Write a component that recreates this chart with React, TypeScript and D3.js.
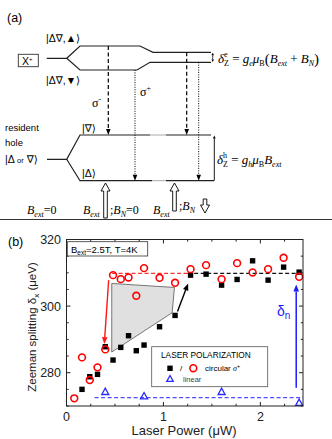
import React from "react";
import * as d3 from "d3";

// laser power (uW) for the circular-polarization series
const powerOpen = [0.08, 0.16, 0.24, 0.32, 0.40, 0.48, 0.56, 0.64, 0.72, 0.80, 0.96, 1.12, 1.28, 1.44, 1.60, 1.76, 1.92, 2.08, 2.24, 2.40];
const splitOpen = [272.3, 284.6, 277.8, 281.6, 287.0, 309.3, 308.1, 308.6, 303.1, 311.4, 308.5, 307.0, 311.1, 312.3, 308.1, 312.9, 310.1, 311.1, 314.5, 308.8];
const powerFilled = [0.16, 0.24, 0.32, 0.40, 0.48, 0.56, 0.64, 0.72, 0.80, 0.96, 1.12, 1.28, 1.44, 1.60, 1.76, 1.92, 2.08, 2.24, 2.40];
const splitFilled = [275.0, 278.8, 279.5, 287.8, 283.8, 287.6, 291.1, 286.6, 288.3, 293.8, 297.2, 309.3, 309.6, 306.3, 308.0, 313.6, 307.8, 311.7, 310.2];
const powerLinear = [0.40, 0.80, 1.60, 2.40];
const splitLinear = [274.3, 273.0, 274.3, 271.0];

const xTicks = [0, 1, 2];
const yTicks = [280, 300, 320];
const xMinor = d3.range(0, 2.45, 0.25);
const yMinor = d3.range(270, 320.1, 5);

const levelOpen = 309.8;
const levelLinear = 272.5;
const hysteresis = [[0.467, 306.8], [1.114, 305.6], [1.09, 298.0], [0.467, 286.2]];

const x = d3.scaleLinear().domain([0, 2.44]).range([66.5, 303]);
const y = d3.scaleLinear().domain([270, 320]).range([406, 239.5]);

const sans = "Liberation Sans, Arial, DejaVu Sans, sans-serif";
const serif = "Liberation Serif, Times New Roman, serif";

function Arrow({ x1, y1, x2, y2, color = "#000", len = 6, w = 2.5, width = 1.2, dash = undefined as any }) {
    const a = Math.atan2(y2 - y1, x2 - x1);
    const bx = x2 - len * Math.cos(a), by = y2 - len * Math.sin(a);
    const px = -Math.sin(a) * w, py = Math.cos(a) * w;
    return (
        <g>
            <line x1={x1} y1={y1} x2={bx} y2={by} stroke={color} strokeWidth={width} strokeDasharray={dash} />
            <path d={`M${x2},${y2}L${bx + px},${by + py}L${bx - px},${by - py}Z`} fill={color} />
        </g>
    );
}

function Hollow({ cx, tip, end }) {
    const d = tip < end ? 1 : -1;
    const h = tip + d * 8;
    return (
        <path
            d={`M${cx},${tip}L${cx + 4.5},${h}L${cx + 1.8},${h}L${cx + 1.8},${end}L${cx - 1.8},${end}L${cx - 1.8},${h}L${cx - 4.5},${h}Z`}
            fill="#fff" stroke="#000" strokeWidth={0.9}
        />
    );
}

function Triangle({ cx, cy, s = 7 }) {
    return <path d={`M${cx},${cy - s * 0.5}L${cx + s * 0.5},${cy + s * 0.4}L${cx - s * 0.5},${cy + s * 0.4}Z`} fill="none" stroke="#2b2bff" strokeWidth={1.3} />;
}

function Diagram() {
    const lvl = "#222";
    return (
        <g>
            <text x={7} y={22} fontFamily={sans} fontSize={12.5}>(a)</text>

            {/* exciton X+ levels */}
            <rect x={18.3} y={54.3} width={20} height={12.4} fill="#fff" stroke="#333" strokeWidth={0.9} />
            <text x={22} y={64.5} fontFamily={sans} fontSize={10.5}>X<tspan fontSize={6} dy={-4}>+</tspan></text>
            <path d="M46.7,58.3L66.7,58.3L80,46L140,46L153,52.3L211,52.3" fill="none" stroke={lvl} strokeWidth={1.2} />
            <path d="M66.7,58.3L80,70L137,70L150,62.3L211,62.3" fill="none" stroke={lvl} strokeWidth={1.2} />
            <text x={46} y={42} fontFamily={sans} fontSize={10.5}>|Δ∇,▲⟩</text>
            <text x={46} y={84} fontFamily={sans} fontSize={10.5}>|Δ∇,▼⟩</text>

            {/* resident hole levels */}
            <text x={5} y={131} fontFamily={sans} fontSize={9.5}>resident</text>
            <text x={5} y={146} fontFamily={sans} fontSize={9.5}>hole</text>
            <text x={5} y={163} fontFamily={sans} fontSize={10.5}>|Δ <tspan fontSize={7.5}>or</tspan> ∇⟩</text>
            <path d="M47,159.3L66.7,159.3L80,135L150,135" fill="none" stroke={lvl} strokeWidth={1.2} />
            <path d="M66.7,159.3L80,180.7L152,180.7" fill="none" stroke={lvl} strokeWidth={1.2} />
            <line x1={150} y1={135} x2={166} y2={135} stroke="#aaa" strokeWidth={1} />
            <line x1={152} y1={180.7} x2={166} y2={180.7} stroke="#aaa" strokeWidth={1} />
            <line x1={166} y1={135} x2={211} y2={135} stroke={lvl} strokeWidth={1.2} />
            <line x1={166} y1={180.7} x2={214} y2={180.7} stroke={lvl} strokeWidth={1.2} />
            <text x={82} y={132} fontFamily={sans} fontSize={10.5}>|∇⟩</text>
            <text x={82} y={177} fontFamily={sans} fontSize={10.5}>|Δ⟩</text>

            {/* optical transitions */}
            <Arrow x1={108.3} y1={46} x2={108.3} y2={135} dash="4,2.5" len={6} w={2.3} />
            <Arrow x1={135} y1={70} x2={135} y2={180.7} dash="1,1.4" width={1} len={6} w={2.3} />
            <Arrow x1={186.7} y1={52.3} x2={186.7} y2={135} dash="4,2.5" len={6} w={2.3} />
            <Arrow x1={198.7} y1={62.3} x2={198.7} y2={180.7} dash="1,1.4" width={1} len={6} w={2.3} />
            <text x={92} y={107} fontFamily={serif} fontSize={12}>σ<tspan fontSize={8} dy={-5}>-</tspan></text>
            <text x={140} y={96} fontFamily={serif} fontSize={12}>σ<tspan fontSize={8} dy={-5}>+</tspan></text>

            {/* splittings */}
            <Arrow x1={212.7} y1={57.5} x2={212.7} y2={52.8} len={2.5} w={1.3} width={0.8} />
            <Arrow x1={212.7} y1={57.5} x2={212.7} y2={62} len={2.5} w={1.3} width={0.8} />
            <text x={218} y={63} fontFamily={serif} fontSize={13}>
                <tspan fontStyle="italic">δ</tspan>
                <tspan fontSize={8} dy={-6}>e</tspan>
                <tspan fontSize={8} dx={-3.6} dy={9}>Z</tspan>
                <tspan dy={-3}> = </tspan>
                <tspan fontStyle="italic">g</tspan>
                <tspan fontSize={8} dy={3} fontStyle="italic">e</tspan>
                <tspan fontStyle="italic" dy={-3}>μ</tspan>
                <tspan fontSize={8} dy={3}>B</tspan>
                <tspan fontSize={15} dy={-2}>(</tspan>
                <tspan fontStyle="italic" dy={-1}>B</tspan>
                <tspan fontSize={8} dy={3} fontStyle="italic">ext</tspan>
                <tspan dy={-3}> + </tspan>
                <tspan fontStyle="italic">B</tspan>
                <tspan fontSize={8} dy={3} fontStyle="italic">N</tspan>
                <tspan fontSize={15} dy={-2}>)</tspan>
            </text>
            <Arrow x1={214.3} y1={160} x2={214.3} y2={135.5} len={3} w={1.4} width={0.9} />
            <line x1={214.3} y1={160} x2={214.3} y2={180.7} stroke="#000" strokeWidth={0.9} />
            <text x={217} y={164} fontFamily={serif} fontSize={13}>
                <tspan fontStyle="italic">δ</tspan>
                <tspan fontSize={8} dy={-6}>h</tspan>
                <tspan fontSize={8} dx={-4} dy={9}>Z</tspan>
                <tspan dy={-3}> = </tspan>
                <tspan fontStyle="italic">g</tspan>
                <tspan fontSize={8} dy={3} fontStyle="italic">h</tspan>
                <tspan fontStyle="italic" dy={-3}>μ</tspan>
                <tspan fontSize={8} dy={3}>B</tspan>
                <tspan fontStyle="italic" dy={-3}>B</tspan>
                <tspan fontSize={8} dy={3} fontStyle="italic">ext</tspan>
            </text>

            {/* field conditions */}
            <text x={27} y={214} fontFamily={serif} fontSize={12}>
                <tspan fontStyle="italic">B</tspan><tspan fontSize={8} dy={3} fontStyle="italic">ext</tspan><tspan dy={-3}>=0</tspan>
            </text>
            <text x={83} y={214} fontFamily={serif} fontSize={12}>
                <tspan fontStyle="italic">B</tspan><tspan fontSize={8} dy={3} fontStyle="italic">ext</tspan>
            </text>
            <Hollow cx={105.5} tip={183} end={218} />
            <text x={110} y={214} fontFamily={serif} fontSize={12}>
                ;<tspan fontStyle="italic">B</tspan><tspan fontSize={8} dy={3} fontStyle="italic">N</tspan><tspan dy={-3}>=0</tspan>
            </text>
            <text x={153} y={214} fontFamily={serif} fontSize={12}>
                <tspan fontStyle="italic">B</tspan><tspan fontSize={8} dy={3} fontStyle="italic">ext</tspan>
            </text>
            <Hollow cx={174.5} tip={183} end={211} />
            <text x={179} y={210} fontFamily={serif} fontSize={12}>
                ;<tspan fontStyle="italic">B</tspan><tspan fontSize={8} dy={3} fontStyle="italic">N</tspan>
            </text>
            <Hollow cx={205} tip={213} end={199} />

            <line x1={0} y1={219.5} x2={332} y2={219.5} stroke="#333" strokeWidth={1} />
        </g>
    );
}

function Chart() {
    const [x0, x1] = x.range();
    const [y0, y1] = y.range();
    const poly = d3.line()(hysteresis.map(([p, s]) => [x(p), y(s)] as [number, number])) + "Z";
    return (
        <g>
            <text x={8} y={246} fontFamily={sans} fontSize={12.5}>(b)</text>

            <path d={poly} fill="#dfe0df" stroke="#555" strokeWidth={0.8} />

            {/* dashed reference levels */}
            <line x1={x(0.47)} x2={x(1.25)} y1={y(levelOpen)} y2={y(levelOpen)} stroke="#ff3030" strokeWidth={1.3} strokeDasharray="4,2.5" />
            <line x1={x(1.25)} x2={x1} y1={y(levelOpen)} y2={y(levelOpen)} stroke="#111" strokeWidth={1.3} strokeDasharray="4,2.5" />
            <line x1={x(0.29)} x2={x1} y1={y(levelLinear)} y2={y(levelLinear)} stroke="#4d4dff" strokeWidth={1.3} strokeDasharray="4,2.5" />

            {/* arrows */}
            <Arrow x1={x(0.435)} y1={y(307.8)} x2={x(0.39)} y2={y(288.6)} color="#ff1a1a" width={1.4} len={7} w={2.8} />
            <Arrow x1={x(1.145)} y1={y(298.4)} x2={x(1.255)} y2={y(306.8)} color="#000" width={1.4} len={7} w={2.8} />
            <Arrow x1={x(2.37)} y1={y(275.5)} x2={x(2.37)} y2={y(306.5)} color="#1a1aff" width={1.5} len={7} w={2.8} />
            <text x={277} y={316} fontFamily={sans} fontSize={14} fill="#1a1aff">δ<tspan fontSize={10} dy={3}>n</tspan></text>

            {/* data */}
            {powerFilled.map((p, i) => (
                <rect key={"f" + i} x={x(p) - 2.7} y={y(splitFilled[i]) - 2.7} width={5.4} height={5.4} fill="#000" />
            ))}
            {powerOpen.map((p, i) => (
                <circle key={"o" + i} cx={x(p)} cy={y(splitOpen[i])} r={3.4} fill="none" stroke="#ff0000" strokeWidth={1.6} />
            ))}
            {powerLinear.map((p, i) => (
                <Triangle key={"l" + i} cx={x(p)} cy={y(splitLinear[i])} />
            ))}

            {/* frame */}
            <rect x={x0} y={y1} width={x1 - x0} height={y0 - y1} fill="none" stroke="#222" strokeWidth={1} />
            {xMinor.map((t, i) => {
                const major = Math.abs(t - Math.round(t)) < 1e-6;
                const l = major ? 4 : 2.2;
                return (
                    <g key={"xt" + i}>
                        <line x1={x(t)} x2={x(t)} y1={y0} y2={y0 - l} stroke="#222" />
                        <line x1={x(t)} x2={x(t)} y1={y1} y2={y1 + l} stroke="#222" />
                    </g>
                );
            })}
            {yMinor.map((t, i) => {
                const major = t % 20 === 0;
                const l = major ? 4 : 2.2;
                return (
                    <g key={"yt" + i}>
                        <line x1={x0} x2={x0 + l} y1={y(t)} y2={y(t)} stroke="#222" />
                        <line x1={x1} x2={x1 - l} y1={y(t)} y2={y(t)} stroke="#222" />
                    </g>
                );
            })}
            {xTicks.map((t) => (
                <text key={"xl" + t} x={x(t)} y={421} textAnchor="middle" fontFamily={sans} fontSize={12.5} fill="#222">{t}</text>
            ))}
            {yTicks.map((t) => (
                <text key={"yl" + t} x={61} y={y(t) + 4.5} textAnchor="end" fontFamily={sans} fontSize={12.5} fill="#222">{t}</text>
            ))}

            <text transform="translate(36,327) rotate(-90)" textAnchor="middle" fontFamily={sans} fontSize={11.5} fill="#222">
                Zeeman splitting δ<tspan fontSize={8} dy={2.5}>x</tspan><tspan dy={-2.5}> (μeV)</tspan>
            </text>
            <text x={184} y={435} textAnchor="middle" fontFamily={sans} fontSize={13} fill="#222">Laser Power (μW)</text>

            {/* field box */}
            <rect x={67.3} y={241.7} width={80.4} height={14.3} fill="#fff" stroke="#333" strokeWidth={0.8} />
            <text x={71} y={252.5} fontFamily={sans} fontSize={9.5}>
                B<tspan fontSize={6.5} dy={2}>ext</tspan><tspan dy={-2}>=2.5T, T=4K</tspan>
            </text>

            {/* legend */}
            <rect x={151.7} y={346.7} width={116} height={40} fill="#fff" stroke="#555" strokeWidth={0.8} />
            <text x={161} y={358} fontFamily={sans} fontSize={8.3}>LASER POLARIZATION</text>
            <rect x={167.3} y={365.6} width={5.4} height={5.4} fill="#000" />
            <text x={180} y={371} fontFamily={sans} fontSize={8}>/</text>
            <circle cx={193.3} cy={368.2} r={3.4} fill="none" stroke="#ff0000" strokeWidth={1.6} />
            <text x={205} y={371} fontFamily={sans} fontSize={8}>circular <tspan fontFamily={serif} fontStyle="italic">σ</tspan><tspan fontSize={5.5} dy={-3.5}>+</tspan></text>
            <Triangle cx={170} cy={378.8} s={6.5} />
            <text x={183} y={382} fontFamily={sans} fontSize={7.5} fill="#444">linear</text>
        </g>
    );
}

export default function App() {
    return (
        <svg width={332} height={439} style={{ position: "absolute", left: 0, top: 0, background: "#fff" }}>
            <rect width={332} height={439} fill="#fff" />
            <Diagram />
            <Chart />
        </svg>
    );
}
